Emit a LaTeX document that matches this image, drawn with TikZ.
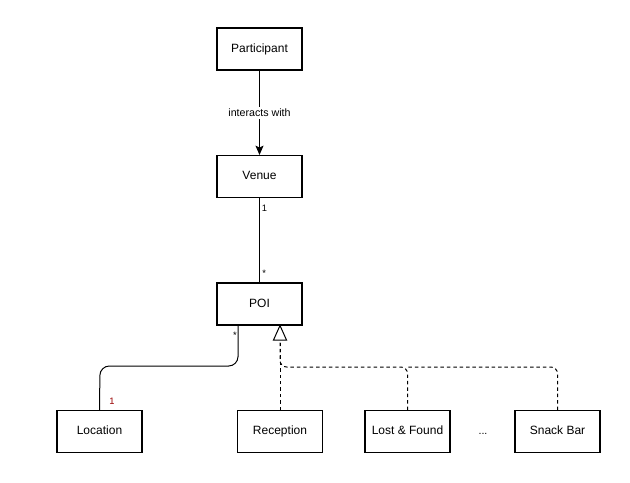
\documentclass[tikz,border=0pt]{standalone}
\usepackage{fontspec}
\setmainfont{Liberation Sans}
\usetikzlibrary{arrows.meta}
\definecolor{darkred}{HTML}{990000}
\tikzset{
  cls/.style={draw=black, line width=0.8pt, fill=white, minimum width=85*0.75pt, minimum height=42*0.75pt, inner sep=0pt, text height=7pt, text depth=2pt, font=\fontsize{9}{11}\selectfont},
  conn/.style={draw=black, line width=0.75pt},
  gen/.style={draw=black, line width=0.75pt, dashed, dash pattern=on 2.6pt off 2.2pt, rounded corners=5pt},
  mult/.style={font=\fontsize{7}{8}\selectfont, inner sep=0pt},
}
\begin{document}
\begin{tikzpicture}[x=0.75pt, y=-0.75pt]
\useasboundingbox (0,0) rectangle (630,482);
\node[cls] (part) at (259.5,49) {Participant};
\node[cls] (venue) at (259.5,176.5) {Venue};
\node[cls] (poi) at (259.5,304) {POI};
\node[cls] (loc) at (99.5,431.5) {Location};
\node[cls] (rec) at (280,431.5) {Reception};
\node[cls] (lost) at (407.5,431.5) {Lost \& Found};
\node[cls] (snack) at (557.5,431.5) {Snack Bar};
\node[font=\fontsize{8}{10}\selectfont] (dots) at (483,434) {...};

\draw[conn, -{Stealth[length=7pt,width=6pt,inset=1.5pt]}] (part) -- node[fill=white, inner sep=1.5pt, font=\fontsize{8}{10}\selectfont] {interacts with} (venue);
\draw[conn] (venue) -- (poi);
\node[mult, anchor=north west] at (261.5,205) {1};
\node[mult, anchor=south west] at (262,277) {*};

\coordinate (locA) at (238,325);
\coordinate (locB) at (238,366);
\coordinate (locC) at (100,366);
\draw[conn, rounded corners=7pt] (poi.south -| locA) -- (locB) -- (locC) -- (loc.north);
\node[mult, anchor=north east] at (237,332) {*};
\node[mult, anchor=south west, text=darkred] at (109,405) {1};

\coordinate (tip) at (280,325);
\coordinate (branch) at (280,367);
\draw[gen] (rec.north) -- (branch |- tip) ;
\draw[gen] (lost.north) -- (lost.north |- branch) -- (branch) -- (280,340);
\draw[gen] (snack.north) -- (snack.north |- branch) -- (lost.north |- branch);
\draw[line width=0.75pt, fill=white] (280,325.5) -- (273.5,340) -- (286.5,340) -- cycle;
\end{tikzpicture}
\end{document}
